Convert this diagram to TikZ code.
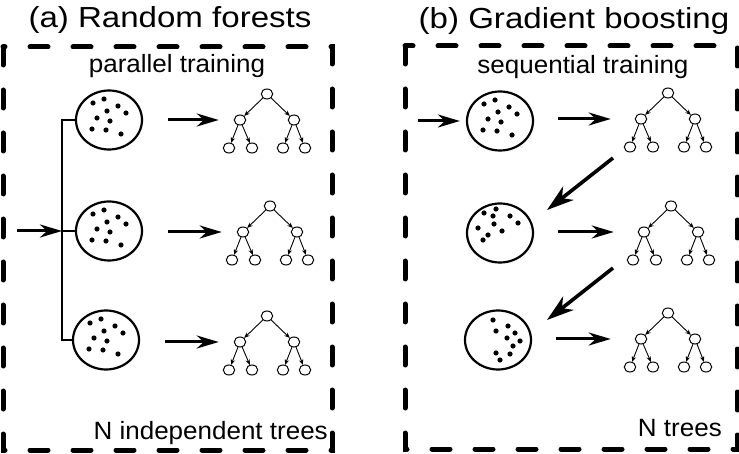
\documentclass[tikz,border=0pt]{standalone}
\usepackage{fontspec}
\setmainfont{Liberation Sans}
\usetikzlibrary{arrows.meta,shapes.geometric}

\begin{document}
\begin{tikzpicture}[x=1pt,y=-1pt,
    dashbox/.style={line width=5pt, dash pattern=on 18pt off 25pt, line cap=round},
    heading/.style={font=\fontsize{29}{32}\selectfont, xscale=1.14, anchor=base, inner sep=0pt},
    note/.style={font=\fontsize{25}{28}\selectfont, xscale=1.04, anchor=base, inner sep=0pt},
    sample/.style={draw, ellipse, line width=2.2pt, minimum width=66pt, minimum height=59pt, inner sep=0pt},
    tnode/.style={draw, ellipse, line width=1pt, minimum width=11.5pt, minimum height=10pt, inner sep=0pt},
    treeedge/.style={line width=0.9pt, -{Stealth[length=5.5pt,width=4.5pt]}},
    mainarrow/.style={line width=3pt, -{Stealth[length=22pt,width=13pt,inset=7pt]}},
    jump/.style={line width=3.6pt, -{Stealth[length=27pt,width=17pt,inset=8pt]}}]
    \useasboundingbox (0,0) rectangle (739,454);

    % Frames and titles
    \draw[dashbox] (3,47) rectangle (332,450);
    \draw[dashbox] (405,46) rectangle (737,449);
    \node[heading] (ta) at (170,28) {(a) Random forests};
    \node[heading] (tb) at (574,29) {(b) Gradient boosting};
    \node[note] (pa) at (177,73) {parallel training};
    \node[note] (pb) at (583,74) {sequential training};
    \node[note, anchor=base east] (na) at (328,439) {N independent trees};
    \node[note, anchor=base east] (nb) at (722,436) {N trees};

    % Data samples
    \node[sample] (sa1) at (109,120) {};
    \node[sample] (sa2) at (109,231) {};
    \node[sample] (sa3) at (106,340) {};
    \node[sample] (sb1) at (500,121) {};
    \node[sample] (sb2) at (500,233) {};
    \node[sample] (sb3) at (498,340) {};
    \foreach \s in {sa1,sa2,sa3,sb1}
        \foreach \dx/\dy in {-16/-17,-5/-21,9/-14,-2/-9,17/-7,-12/-2,1/1,-17/9,-3/10,12/14}
            \fill[shift={(\s)}] (\dx,\dy) circle (2.6);
    \foreach \dx/\dy in {-16/-20,-4/-24,-7/-17,10/-17,18/-10,-22/-5,-6/-9,2/-2,-12/2,-17/7}
        \fill[shift={(sb2)}] (\dx,\dy) circle (2.6);
    \foreach \dx/\dy in {-5/-20,-2/-9,10/-14,17/-7,9/-2,22/1,15/6,-2/13,12/14,2/20}
        \fill[shift={(sb3)}] (\dx,\dy) circle (2.6);

    % Trees
    \foreach \t/\x/\y in {ka1/267/94, ka2/270/206, ka3/267/316, kb1/668/93, kb2/671/206, kb3/668/313} {
        \node[tnode] (\t-0) at (\x,\y) {};
        \node[tnode] (\t-1) at (\x-27,\y+26) {};
        \node[tnode] (\t-2) at (\x+27,\y+26) {};
        \node[tnode] (\t-3) at (\x-38,\y+54) {};
        \node[tnode] (\t-4) at (\x-15,\y+54) {};
        \node[tnode] (\t-5) at (\x+16,\y+54) {};
        \node[tnode] (\t-6) at (\x+38,\y+54) {};
        \draw[treeedge] (\t-0) -- (\t-1);
        \draw[treeedge] (\t-0) -- (\t-2);
        \draw[treeedge] (\t-1) -- (\t-3);
        \draw[treeedge] (\t-1) -- (\t-4);
        \draw[treeedge] (\t-2) -- (\t-5);
        \draw[treeedge] (\t-2) -- (\t-6);
    }

    % Random forests: parallel
    \coordinate (split) at (62,231);
    \coordinate (ina) at (17,231);
    \draw[mainarrow] (ina) -- (split);
    \draw[line width=2.4pt] (sa1.west) -| (split) |- (sa3.west);
    \draw[line width=2.4pt] (split) -- (sa2.west);
    \foreach \i in {1,2,3}
        \draw[mainarrow] ([xshift=25]ka\i-1.west -| sa\i.east) -- ([xshift=-15]ka\i-1.west);

    % Gradient boosting: sequential
    \coordinate (inb) at (418,121);
    \draw[mainarrow, shorten >=6pt] (inb) -- (sb1.west);
    \foreach \i in {1,2,3}
        \draw[mainarrow] ([xshift=24]kb\i-1.west -| sb\i.east) -- ([xshift=-24]kb\i-1.west);
    \draw[jump] ([shift={(-17,11)}]kb1-3.center) -- ([shift={(47,-23)}]sb2.center);
    \draw[jump] ([shift={(-20,8)}]kb2-3.center) -- ([shift={(49,-20)}]sb3.center);
\end{tikzpicture}
\end{document}
